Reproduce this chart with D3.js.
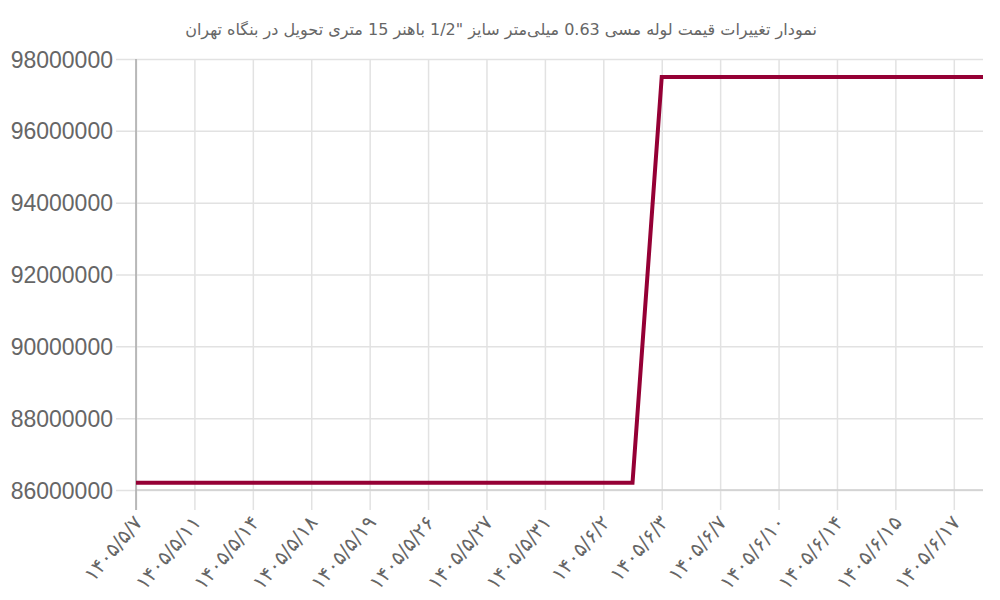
<!DOCTYPE html>
<html>
<head>
<meta charset="utf-8">
<script src="https://cdn.jsdelivr.net/npm/d3@7"></script>
<style>
  body { margin: 0; background: #fff; }
  text { font-family: "Liberation Sans", Arial, "DejaVu Sans", sans-serif; }
</style>
</head>
<body>
<div id="chart"></div>
<script>
// data: one point per trading day, labels shown every other day
var dates = [
  "۱۴۰۵/۵/۷", "۱۴۰۵/۵/۱۰", "۱۴۰۵/۵/۱۱", "۱۴۰۵/۵/۱۲", "۱۴۰۵/۵/۱۴", "۱۴۰۵/۵/۱۵",
  "۱۴۰۵/۵/۱۸", "۱۴۰۵/۵/۱۸", "۱۴۰۵/۵/۱۹", "۱۴۰۵/۵/۲۵", "۱۴۰۵/۵/۲۶", "۱۴۰۵/۵/۲۶",
  "۱۴۰۵/۵/۲۷", "۱۴۰۵/۵/۲۸", "۱۴۰۵/۵/۳۱", "۱۴۰۵/۶/۱", "۱۴۰۵/۶/۲", "۱۴۰۵/۶/۲",
  "۱۴۰۵/۶/۳", "۱۴۰۵/۶/۴", "۱۴۰۵/۶/۷", "۱۴۰۵/۶/۸", "۱۴۰۵/۶/۱۰", "۱۴۰۵/۶/۱۱",
  "۱۴۰۵/۶/۱۴", "۱۴۰۵/۶/۱۴", "۱۴۰۵/۶/۱۵", "۱۴۰۵/۶/۱۶", "۱۴۰۵/۶/۱۷", "۱۴۰۵/۶/۱۸"
];
var prices = [
  86200000, 86200000, 86200000, 86200000, 86200000, 86200000,
  86200000, 86200000, 86200000, 86200000, 86200000, 86200000,
  86200000, 86200000, 86200000, 86200000, 86200000, 86200000,
  97500000, 97500000, 97500000, 97500000, 97500000, 97500000,
  97500000, 97500000, 97500000, 97500000, 97500000, 97500000
];
var yTicks = [86000000, 88000000, 90000000, 92000000, 94000000, 96000000, 98000000];
var title = "نمودار تغییرات قیمت لوله مسی 0.63 میلی‌متر سایز \"1/2 باهنر 15 متری تحویل در بنگاه تهران";

var W = 1000, H = 600;
var margin = {top: 59, right: 17, bottom: 110, left: 136},
    width = W - margin.left - margin.right,
    height = H - margin.top - margin.bottom;

var svg = d3.select("#chart")
  .append("svg")
    .attr("width", W)
    .attr("height", H);

svg.append("text")
    .attr("x", W / 2 + 1)
    .attr("y", 35)
    .attr("direction", "rtl")
    .attr("text-anchor", "middle")
    .style("font-family", "'DejaVu Sans', sans-serif")
    .style("font-size", "16px")
    .style("fill", "#666")
    .text(title);

var g = svg.append("g")
    .attr("transform", "translate(" + margin.left + "," + margin.top + ")");

var idx = d3.range(dates.length);
var x = d3.scalePoint().domain(idx).range([0, width]);
var y = d3.scaleLinear().domain([86000000, 98000000]).range([height, 0]);

// y grid + labels
var yAxis = g.append("g")
    .call(d3.axisLeft(y).tickValues(yTicks).tickSize(-width).tickFormat(d3.format("d")));
yAxis.select(".domain").remove();
yAxis.selectAll(".tick line")
    .attr("x1", -20)
    .attr("stroke", "#e2e2e2").attr("stroke-width", 1.5);
yAxis.selectAll(".tick text")
    .attr("x", -23)
    .attr("dy", "0.35em")
    .style("font-size", "23px")
    .style("fill", "#666");

// x grid + labels (every other day)
var shown = idx.filter(function(i) { return i % 2 === 0; });
var xAxis = g.append("g")
    .attr("transform", "translate(0," + height + ")")
    .call(d3.axisBottom(x).tickValues(shown).tickSize(-height).tickFormat(function(i) { return dates[i]; }));
xAxis.select(".domain").remove();
xAxis.selectAll(".tick line")
    .attr("y1", 20)
    .attr("stroke", "#e2e2e2").attr("stroke-width", 1.5);
xAxis.selectAll(".tick text")
    .attr("y", 0).attr("dy", 0)
    .attr("transform", "translate(7,33) rotate(-50)")
    .attr("text-anchor", "end")
    .style("font-family", "'DejaVu Sans', sans-serif")
    .style("font-size", "20px")
    .style("fill", "#666");

// axis lines
g.append("line")
    .attr("x1", 0).attr("x2", width)
    .attr("y1", height).attr("y2", height)
    .attr("stroke", "#cfcfcf").attr("stroke-width", 1.5);
g.append("line")
    .attr("x1", 0).attr("x2", 0)
    .attr("y1", 0).attr("y2", height + 20)
    .attr("stroke", "#aaa").attr("stroke-width", 1.5);

// price line
var line = d3.line()
    .x(function(d, i) { return x(i); })
    .y(function(d) { return y(d); });
g.append("path")
    .datum(prices)
    .attr("d", line)
    .attr("fill", "none")
    .attr("stroke", "#950035")
    .attr("stroke-width", 4);
</script>
</body>
</html>
